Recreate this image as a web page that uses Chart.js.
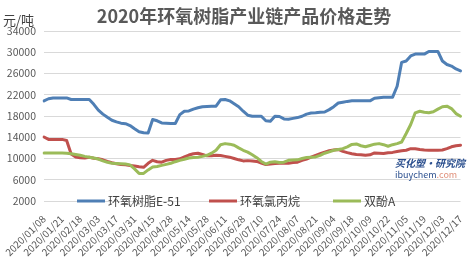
<!DOCTYPE html>
<html>
<head>
<meta charset="utf-8">
<script src="https://cdn.jsdelivr.net/npm/chart.js@4/dist/chart.umd.min.js"></script>
<style>
  body { margin: 0; background: #fff; }
  #wrap { width: 473px; height: 261px; }
</style>
</head>
<body>
<div id="wrap"><canvas id="price-chart"></canvas></div>
<script>
// tick labels (one every 4 points)
const dates = ['2020/01/08', '2020/01/21', '2020/02/18', '2020/03/03', '2020/03/17', '2020/03/31',
  '2020/04/15', '2020/04/28', '2020/05/14', '2020/05/28', '2020/06/11', '2020/06/28',
  '2020/07/10', '2020/07/24', '2020/08/07', '2020/08/21', '2020/09/04', '2020/09/18',
  '2020/10/09', '2020/10/22', '2020/11/05', '2020/11/19', '2020/12/03', '2020/12/17'];

// 环氧树脂E-51
const e51 = [
  20850, 21250, 21400, 21400, 21400, 21400, 21100, 21100, 21100, 21100,
  21100, 20200, 19100, 18350, 17750, 17200, 16900, 16650, 16550, 16200,
  15600, 15050, 14850, 14800, 17350, 17100, 16700, 16650, 16600, 16600,
  18250, 18900, 18950, 19300, 19550, 19750, 19800, 19850, 19850, 21050,
  21100, 20850, 20300, 19750, 18900, 18150, 17950, 17950, 17950, 17100,
  17000, 17950, 17900, 17450, 17400, 17550, 17700, 17950, 18350, 18550,
  18600, 18700, 18750, 19200, 19750, 20450, 20600, 20750, 20850, 20850,
  20850, 20850, 20850, 21350, 21450, 21550, 21550, 21550, 23600, 28100,
  28350, 29300, 29650, 29650, 29650, 30150, 30150, 30150, 28350, 27700,
  27400, 26850, 26500];

// 环氧氯丙烷
const ech = [
  14050, 13600, 13600, 13600, 13600, 13400, 10850, 10300, 10150, 10100,
  10250, 10050, 9950, 9750, 9450, 9200, 9000, 8850, 8800, 8700,
  8600, 8450, 8350, 9100, 9650, 9400, 9300, 9650, 9800, 9800,
  9950, 10300, 10650, 10900, 11000, 10750, 10500, 10500, 10600, 10550,
  10400, 10250, 10000, 9750, 9550, 9600, 9550, 9450, 9150, 8850,
  8950, 9050, 9100, 9150, 9100, 9250, 9300, 9650, 9900, 10250,
  10600, 10900, 11200, 11450, 11600, 11700, 11350, 11100, 10900, 10750,
  10700, 10600, 10700, 11050, 11000, 10950, 11100, 11150, 11300, 11450,
  11550, 11850, 11850, 11700, 11600, 11550, 11550, 11550, 11600, 11850,
  12200, 12400, 12500];

// 双酚A
const bpa = [
  11050, 11050, 11050, 11050, 11050, 11000, 10900, 10750, 10600, 10400,
  10250, 10100, 9900, 9550, 9300, 9100, 9050, 9000, 8950, 8800,
  8050, 7200, 7200, 7850, 8400, 8500, 8700, 8900, 9100, 9400,
  9650, 9850, 10100, 10200, 10250, 10400, 10600, 11000, 11550, 12600,
  12800, 12700, 12500, 12000, 11550, 11200, 10700, 10150, 9450, 8950,
  9300, 9400, 9250, 9300, 9650, 9700, 9750, 10000, 10200, 10250,
  10300, 10600, 11000, 11250, 11550, 11700, 11850, 12200, 12650, 12750,
  12400, 12200, 12450, 12700, 12800, 12600, 12300, 12600, 12800, 13100,
  14700, 16400, 18600, 18900, 18700, 18600, 18800, 19300, 19750, 19850,
  19400, 18450, 17950];

const labels = e51.map((_, i) => (i % 4 === 0 ? dates[i / 4] : ''));

const BLUE = '#4f7fb5', RED = '#c0504d', GREEN = '#9bbb59';
const CJK = '"Noto Sans CJK SC", "Noto Sans", sans-serif';

// title, unit, legend and watermark drawn on top
const overlay = {
  id: 'overlay',
  afterDraw(chart) {
    const c = chart.ctx;
    c.save();
    c.fillStyle = '#595959';
    c.font = 'bold 18px ' + CJK;
    c.textAlign = 'center';
    c.textBaseline = 'middle';
    c.fillText('2020年环氧树脂产业链产品价格走势', 244, 16);

    c.fillStyle = '#404040';
    c.font = '13px ' + CJK;
    c.textAlign = 'left';
    c.fillText('元/吨', 3, 20);

    // legend sitting on the bottom gridline
    const y = chart.chartArea.bottom;
    const items = [[BLUE, '环氧树脂E-51', 77], [RED, '环氧氯丙烷', 209], [GREEN, '双酚A', 333]];
    c.font = '12px ' + CJK;
    c.lineWidth = 3;
    items.forEach(([col, txt, x]) => {
      c.strokeStyle = col;
      c.beginPath();
      c.moveTo(x, y);
      c.lineTo(x + 28, y);
      c.stroke();
      c.fillStyle = '#404040';
      c.fillText(txt, x + 31, y);
    });

    // watermark
    c.font = 'italic bold 10px ' + CJK;
    c.fillStyle = '#2b4f8e';
    c.fillText('买化塑·研究院', 395, 163);
    c.font = '9px ' + CJK;
    c.fillText('ibuychem', 395, 175);
    c.fillStyle = '#e0907a';
    c.fillText('.com', 395 + c.measureText('ibuychem').width, 175);
    c.restore();
  }
};

new Chart(document.getElementById('price-chart'), {
  type: 'line',
  data: {
    labels: labels,
    datasets: [
      { label: '环氧树脂E-51', data: e51, borderColor: BLUE, order: 2 },
      { label: '环氧氯丙烷', data: ech, borderColor: RED, order: 1 },
      { label: '双酚A', data: bpa, borderColor: GREEN, order: 0 }
    ]
  },
  options: {
    responsive: true,
    maintainAspectRatio: false,
    animation: false,
    elements: {
      line: { borderWidth: 3, tension: 0, borderCapStyle: 'round', borderJoinStyle: 'round' },
      point: { radius: 0 }
    },
    layout: { padding: { top: 31, right: 10, left: 0, bottom: 0 } },
    plugins: {
      legend: { display: false },
      tooltip: { enabled: false }
    },
    scales: {
      x: {
        offset: false,
        grid: { display: false },
        border: { display: false },
        ticks: {
          autoSkip: false,
          maxRotation: 45,
          minRotation: 45,
          padding: 4,
          color: '#595959',
          font: { family: CJK, size: 10 }
        },
        afterFit: (scale) => { scale.height = 60; }
      },
      y: {
        min: 2000,
        max: 34000,
        grid: { color: '#d9d9d9', drawTicks: false },
        border: { display: false },
        ticks: {
          stepSize: 4000,
          padding: 8,
          color: '#595959',
          font: { family: CJK, size: 10.5 },
          callback: (v) => String(v)
        },
        afterFit: (scale) => { scale.width = 44; }
      }
    }
  },
  plugins: [overlay]
});
</script>
</body>
</html>
